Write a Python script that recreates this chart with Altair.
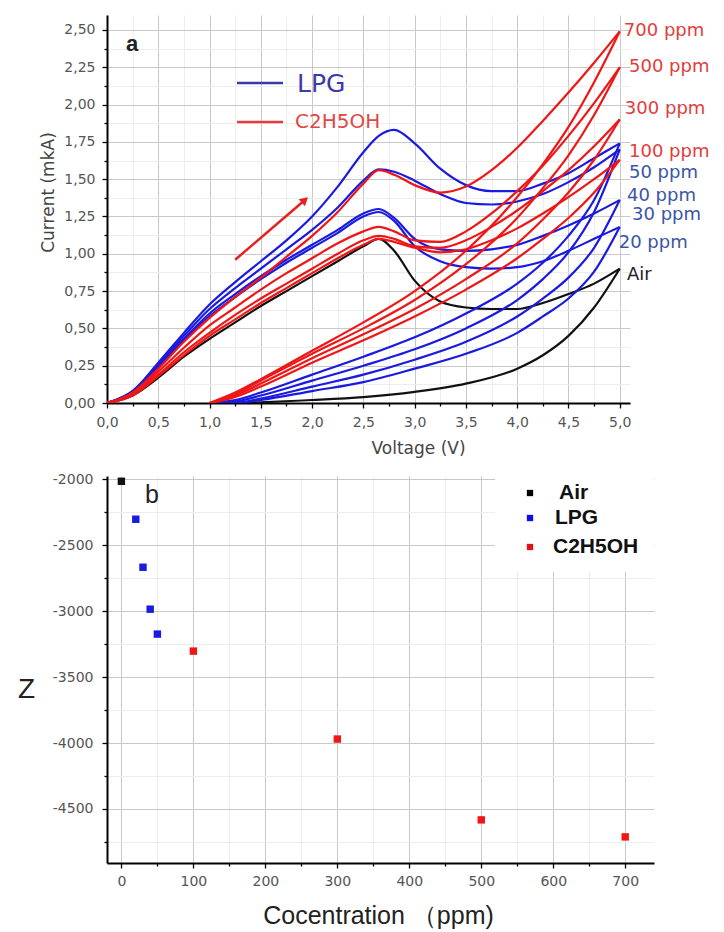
import altair as alt
import pandas as pd

FONT_A = "DejaVu Sans"
FONT_B = "Liberation Sans"

# ---------------- panel a: current-voltage loops ----------------
FWD_V = [0, 0.25, 0.5, 0.75, 1.0, 1.25, 1.5, 1.75, 2.0, 2.25, 2.5, 2.65, 2.8,
         3.0, 3.25, 3.5, 3.75, 4.0, 4.25, 4.5, 4.75, 5.0]
REV_V = [5.0, 4.75, 4.5, 4.25, 4.0, 3.5, 3.0, 2.5, 2.0, 1.5, 1.25, 1.0]

CURVE_NAMES = ["Air", "20 ppm", "30 ppm", "40 ppm", "50 ppm",
               "100 ppm", "300 ppm", "500 ppm", "700 ppm"]
CURVE_GAS = ["Air", "LPG", "LPG", "LPG", "LPG",
             "C2H5OH", "C2H5OH", "C2H5OH", "C2H5OH"]

FWD_AIR = [0, 0.05, 0.17, 0.31, 0.43, 0.54, 0.65, 0.75, 0.85, 0.95, 1.05, 1.10, 1.02, 0.82, 0.68, 0.64, 0.63, 0.63, 0.67, 0.73, 0.80, 0.90]
FWD_20 = [0, 0.07, 0.24, 0.42, 0.58, 0.71, 0.83, 0.94, 1.04, 1.14, 1.25, 1.28, 1.22, 1.05, 0.95, 0.91, 0.90, 0.91, 0.95, 1.02, 1.10, 1.18]
FWD_30 = [0, 0.07, 0.25, 0.43, 0.60, 0.73, 0.85, 0.96, 1.06, 1.16, 1.27, 1.30, 1.24, 1.10, 1.03, 1.02, 1.03, 1.06, 1.12, 1.19, 1.27, 1.36]
FWD_40 = [0, 0.08, 0.26, 0.45, 0.63, 0.77, 0.90, 1.03, 1.16, 1.31, 1.49, 1.565, 1.55, 1.49, 1.40, 1.34, 1.33, 1.35, 1.40, 1.48, 1.58, 1.70]
FWD_50 = [0, 0.08, 0.27, 0.47, 0.66, 0.81, 0.95, 1.09, 1.25, 1.45, 1.68, 1.79, 1.83, 1.74, 1.57, 1.46, 1.42, 1.42, 1.47, 1.54, 1.64, 1.74]
FWD_100 = [0, 0.05, 0.18, 0.32, 0.45, 0.56, 0.67, 0.77, 0.87, 0.97, 1.06, 1.10, 1.08, 1.04, 1.01, 1.03, 1.09, 1.17, 1.27, 1.38, 1.50, 1.63]
FWD_300 = [0, 0.06, 0.19, 0.34, 0.47, 0.59, 0.70, 0.80, 0.90, 1.00, 1.09, 1.12, 1.10, 1.05, 1.04, 1.09, 1.18, 1.29, 1.42, 1.56, 1.72, 1.90]
FWD_500 = [0, 0.06, 0.21, 0.37, 0.52, 0.64, 0.76, 0.87, 0.97, 1.07, 1.15, 1.18, 1.15, 1.09, 1.08, 1.15, 1.27, 1.42, 1.59, 1.79, 2.01, 2.25]
FWD_700 = [0, 0.07, 0.23, 0.41, 0.57, 0.71, 0.84, 0.98, 1.12, 1.28, 1.47, 1.56, 1.53, 1.46, 1.41, 1.45, 1.56, 1.71, 1.89, 2.08, 2.28, 2.49]

REV_AIR = [0.90, 0.64, 0.45, 0.32, 0.23, 0.13, 0.075, 0.04, 0.02, 0.005, 0.0, 0.0]
REV_20 = [1.18, 0.88, 0.70, 0.58, 0.47, 0.33, 0.23, 0.14, 0.08, 0.02, 0.0, 0.0]
REV_30 = [1.36, 1.04, 0.84, 0.70, 0.58, 0.41, 0.29, 0.19, 0.11, 0.03, 0.0, 0.0]
REV_40 = [1.70, 1.28, 1.01, 0.83, 0.69, 0.50, 0.36, 0.25, 0.15, 0.05, 0.01, 0.0]
REV_50 = [1.74, 1.36, 1.12, 0.94, 0.80, 0.60, 0.44, 0.31, 0.19, 0.07, 0.02, 0.0]
REV_100 = [1.63, 1.41, 1.24, 1.10, 0.97, 0.76, 0.58, 0.42, 0.27, 0.11, 0.04, 0.0]
REV_300 = [1.90, 1.63, 1.41, 1.23, 1.07, 0.83, 0.63, 0.46, 0.30, 0.13, 0.05, 0.0]
REV_500 = [2.25, 1.93, 1.66, 1.44, 1.24, 0.93, 0.69, 0.50, 0.33, 0.15, 0.06, 0.0]
REV_700 = [2.49, 2.15, 1.85, 1.60, 1.38, 1.02, 0.75, 0.54, 0.35, 0.16, 0.07, 0.0]

FWD_ALL = [FWD_AIR, FWD_20, FWD_30, FWD_40, FWD_50, FWD_100, FWD_300, FWD_500, FWD_700]
REV_ALL = [REV_AIR, REV_20, REV_30, REV_40, REV_50, REV_100, REV_300, REV_500, REV_700]

# right-hand curve labels (position in data units)
LABEL_TEXT = ["700 ppm", "500 ppm", "300 ppm", "100 ppm", "50 ppm", "40 ppm", "30 ppm", "20 ppm", "Air"]
LABEL_X = [5.04, 5.09, 5.05, 5.09, 5.09, 5.07, 5.12, 4.99, 5.07]
LABEL_Y = [2.49, 2.25, 1.97, 1.68, 1.54, 1.39, 1.26, 1.07, 0.86]
LABEL_COLOR = ["#e23c3c", "#e23c3c", "#e23c3c", "#e23c3c",
               "#3a55a8", "#3a55a8", "#3a55a8", "#3a55a8", "#222222"]

ARROW_V = [1.25, 1.93]
ARROW_I = [0.96, 1.36]

XA_TICKS = [0, 0.25, 0.5, 0.75, 1.0, 1.25, 1.5, 1.75, 2.0, 2.25, 2.5, 2.75,
            3.0, 3.25, 3.5, 3.75, 4.0, 4.25, 4.5, 4.75, 5.0]
YA_TICKS = [0, 0.125, 0.25, 0.375, 0.5, 0.625, 0.75, 0.875, 1.0, 1.125, 1.25,
            1.375, 1.5, 1.625, 1.75, 1.875, 2.0, 2.125, 2.25, 2.375, 2.5]

# ---------------- panel b: Z vs concentration ----------------
CONC = [0, 20, 30, 40, 50, 100, 300, 500, 700]
ZVAL = [-2015, -2303, -2667, -2985, -3174, -3303, -3970, -4583, -4712]
ZGAS = ["Air", "LPG", "LPG", "LPG", "LPG", "C2H5OH", "C2H5OH", "C2H5OH", "C2H5OH"]

XB_TICKS = [0, 50, 100, 150, 200, 250, 300, 350, 400, 450, 500, 550, 600, 650, 700]
YB_TICKS = [-2000, -2250, -2500, -2750, -3000, -3250, -3500, -3750, -4000,
            -4250, -4500, -4750]

GAS_DOMAIN = ["Air", "LPG", "C2H5OH"]
LINE_COLORS = ["#111111", "#1a1ae0", "#f01616"]
POINT_COLORS = ["#000000", "#0c0ce6", "#e3101e"]

# ---------------- build tables ----------------
rows = []
for name, gas, fwd, rev in zip(CURVE_NAMES, CURVE_GAS, FWD_ALL, REV_ALL):
    for v, i in zip(FWD_V, fwd):
        rows.append({"V": v, "I": i, "gas": gas, "branch": name + " fwd"})
    for v, i in zip(REV_V, rev):
        rows.append({"V": v, "I": i, "gas": gas, "branch": name + " rev"})
df_a = pd.DataFrame(rows)

df_lab = pd.DataFrame({"V": LABEL_X, "I": LABEL_Y, "t": LABEL_TEXT, "c": LABEL_COLOR})
df_arrow = pd.DataFrame({"V": [ARROW_V[0]], "I": [ARROW_I[0]], "V2": [ARROW_V[1]], "I2": [ARROW_I[1]]})
df_head = pd.DataFrame({"V": [ARROW_V[1]], "I": [ARROW_I[1]]})
df_b = pd.DataFrame({"c": CONC, "z": ZVAL, "gas": ZGAS})
one = pd.DataFrame({"k": [0]})


def cond(test, major, minor):
    return {"condition": {"test": test, "value": major}, "value": minor}


def axis_style(**kw):
    base = dict(grid=True, gridWidth=1, tickColor="black", tickWidth=1.3,
                domainColor="black", domainWidth=2, labelOverlap=False,
                labelFlush=False, titleFontWeight="normal",
                titleAlign="center", titleBaseline="middle")
    base.update(kw)
    return alt.Axis(**base)


ta = "datum.value % 0.5 === 0"
tya = "datum.value % 0.25 === 0"
ax_xa = axis_style(
    values=XA_TICKS,
    labelExpr="%s ? replace(format(datum.value, '.1f'), '.', ',') : ''" % ta,
    gridColor=cond(ta, "#c8c8c8", "#ededed"), tickSize=cond(ta, 5, 3),
    labelFont=FONT_A, labelFontSize=14, labelColor="#555555", labelPadding=7,
    title="Voltage (V)", titleFont=FONT_A, titleFontSize=17, titleColor="#444444",
    titleX=311, titleY=45)
ax_ya = axis_style(
    values=YA_TICKS,
    labelExpr="%s ? replace(format(datum.value, '.2f'), '.', ',') : ''" % tya,
    gridColor=cond(tya, "#c8c8c8", "#ededed"), tickSize=cond(tya, 5, 3),
    labelFont=FONT_A, labelFontSize=14, labelColor="#555555", labelPadding=7,
    title="Current (mkA)", titleFont=FONT_A, titleFontSize=17, titleColor="#444444",
    titleX=-59, titleY=177, titleAngle=-90)

sx_a = alt.Scale(domain=[0, 5.1], nice=False, zero=False)
sy_a = alt.Scale(domain=[0, 2.6], nice=False, zero=False)
XA = alt.X("V:Q", scale=sx_a, axis=ax_xa)
YA = alt.Y("I:Q", scale=sy_a, axis=ax_ya)

curves = alt.Chart(df_a).mark_line(strokeWidth=2.2, interpolate="monotone", clip=True).encode(
    x=XA, y=YA,
    color=alt.Color("gas:N", scale=alt.Scale(domain=GAS_DOMAIN, range=LINE_COLORS), legend=None),
    detail="branch:N",
)

labels = alt.Chart(df_lab).mark_text(align="left", baseline="middle", font=FONT_A, fontSize=18).encode(
    x=XA, y=YA, text="t:N", color=alt.Color("c:N", scale=None),
)

arrow = alt.Chart(df_arrow).mark_rule(color="#e82020", strokeWidth=2.5).encode(
    x=XA, y=YA, x2="V2:Q", y2="I2:Q")
head = alt.Chart(df_head).mark_point(shape="triangle-up", filled=True, size=90, angle=49,
                                     color="#e82020", opacity=1).encode(x=XA, y=YA)

leg_lpg_line = alt.Chart(one).mark_rule(color="#3b3ba6", strokeWidth=2.5).encode(
    x=alt.value(130), x2=alt.value(176), y=alt.value(68))
leg_lpg_text = alt.Chart(one).mark_text(text="LPG", align="left", baseline="middle", font=FONT_A,
                                        fontSize=25, color="#3b3ba6").encode(
    x=alt.value(190), y=alt.value(69))
leg_eth_line = alt.Chart(one).mark_rule(color="#e23b3b", strokeWidth=2.5).encode(
    x=alt.value(130), x2=alt.value(176), y=alt.value(107))
leg_eth_text = alt.Chart(one).mark_text(text="C2H5OH", align="left", baseline="middle", font=FONT_A,
                                        fontSize=20, color="#e04848").encode(
    x=alt.value(188), y=alt.value(107))
label_a = alt.Chart(one).mark_text(text="a", align="center", baseline="middle", font=FONT_B,
                                   fontSize=22, fontWeight="bold", color="#222222").encode(
    x=alt.value(25), y=alt.value(29))

top = alt.layer(curves, arrow, head, labels, leg_lpg_line, leg_lpg_text,
                leg_eth_line, leg_eth_text, label_a).properties(width=523, height=388)

# ---------------- panel b ----------------
tb = "datum.value % 100 === 0"
tyb = "datum.value % 500 === 0"
ax_xb = axis_style(
    values=XB_TICKS, labelExpr="%s ? toString(datum.value) : ''" % tb,
    gridColor=cond(tb, "#c8c8c8", "#ededed"), tickSize=cond(tb, 5, 3),
    labelFont=FONT_A, labelFontSize=14, labelColor="#555555", labelPadding=6,
    title="Cocentration （ppm)", titleFont=FONT_B, titleFontSize=25, titleColor="#222222",
    titleX=271, titleY=52)
ax_yb = axis_style(
    values=YB_TICKS, labelExpr="%s ? toString(datum.value) : ''" % tyb,
    gridColor=cond(tyb, "#c8c8c8", "#ededed"), tickSize=cond(tyb, 5, 3),
    labelFont=FONT_A, labelFontSize=14, labelColor="#555555", labelPadding=9,
    title="Z", titleFont=FONT_B, titleFontSize=28, titleColor="#222222",
    titleX=-81, titleY=213, titleAngle=0)

box = alt.Chart(one).mark_rect(color="white").encode(
    x=alt.value(388), x2=alt.value(547), y=alt.value(0), y2=alt.value(96))

points = alt.Chart(df_b).mark_square(size=55, opacity=1).encode(
    x=alt.X("c:Q", scale=alt.Scale(domain=[-20, 740], nice=False, zero=False), axis=ax_xb),
    y=alt.Y("z:Q", scale=alt.Scale(domain=[-4910, -1975], nice=False, zero=False), axis=ax_yb),
    color=alt.Color("gas:N", scale=alt.Scale(domain=GAS_DOMAIN, range=POINT_COLORS), legend=None),
)

LEG_B_Y = [17, 42, 71]
LEG_B_TX = [452, 448, 446]
leg_b = []
for name, col, ly, tx in zip(GAS_DOMAIN, POINT_COLORS, LEG_B_Y, LEG_B_TX):
    leg_b.append(alt.Chart(one).mark_square(size=40, color=col, opacity=1).encode(
        x=alt.value(423), y=alt.value(ly)))
    leg_b.append(alt.Chart(one).mark_text(text=name, align="left", baseline="middle", font=FONT_B,
                                          fontSize=21, fontWeight="bold", color="#111111").encode(
        x=alt.value(tx), y=alt.value(ly)))

label_b = alt.Chart(one).mark_text(text="b", align="center", baseline="middle", font=FONT_B,
                                   fontSize=25, color="#222222").encode(
    x=alt.value(45), y=alt.value(19))

bottom = alt.layer(box, points, label_b, *leg_b).properties(width=547, height=387)

chart = alt.vconcat(top, bottom, spacing=73, bounds="flush").properties(
    padding={"left": 9, "top": 7, "right": 2, "bottom": 5}
).configure_view(stroke=None)

chart.save("out.html", embed_options={"renderer": "svg", "actions": False})
